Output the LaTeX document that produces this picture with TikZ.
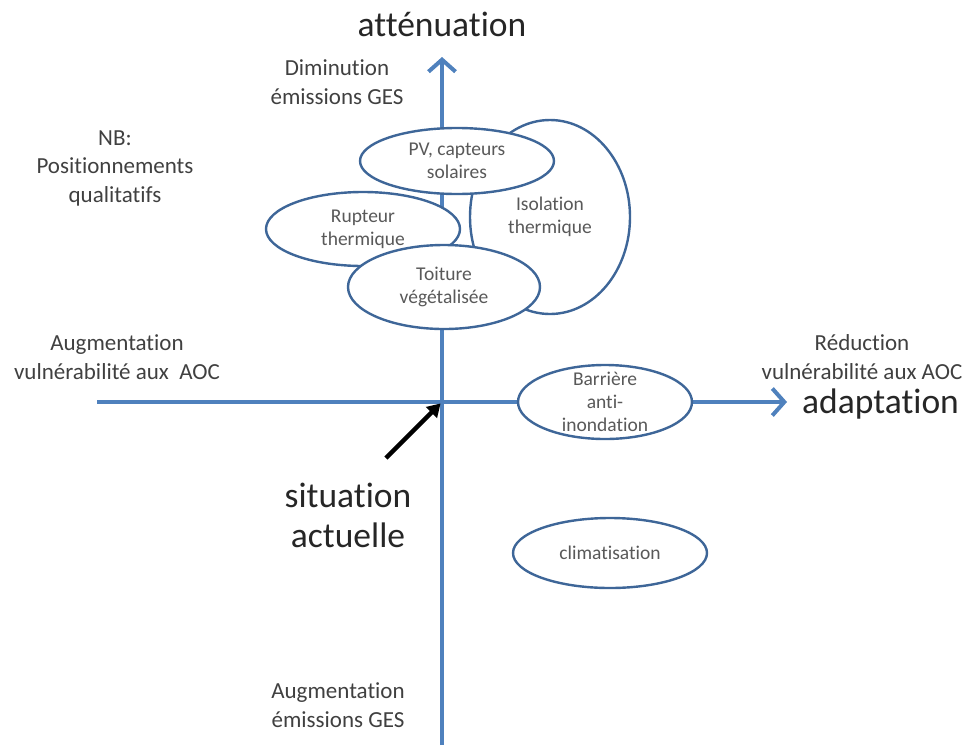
\documentclass[tikz,border=0pt]{standalone}
\usepackage{fontspec}
\setmainfont{Carlito}[Ligatures={NoCommon}]
\usepackage{tikz}
\usetikzlibrary{shapes.geometric,arrows.meta}
\definecolor{axisblue}{RGB}{79,129,189}
\definecolor{edgeblue}{RGB}{62,102,152}
\definecolor{txtgray}{RGB}{64,64,64}
\definecolor{blobtxt}{RGB}{89,89,89}

\begin{document}
\begin{tikzpicture}[x=1pt, y=-1pt,
  axis/.style={line width=4pt, color=axisblue, -{Straight Barb[length=12pt,width=27pt]}},
  blob/.style={ellipse, draw=edgeblue, line width=2.4pt, fill=white, inner sep=0pt,
    align=center, text=blobtxt, font=\fontsize{19.5}{23}\selectfont},
  note/.style={align=center, text=txtgray, inner sep=0pt, font=\fontsize{23}{28.5}\selectfont},
  bigtext/.style={align=center, text=black!85, inner sep=0pt, font=\fontsize{35.5}{40}\selectfont}]

  \useasboundingbox (0,0) rectangle (966,745);

  \coordinate (O) at (442,402);
  \coordinate (top) at (442,57);
  \coordinate (bottom) at (442,745);
  \coordinate (left) at (97,402);
  \coordinate (right) at (787,402);
  \coordinate (sittail) at (386,458);

  %% axes
  \draw[axis] (bottom) -- (top);
  \draw[axis] (left) -- (right);

  %% measures (back to front)
  \node[blob, minimum width=160pt, minimum height=194pt] (isol) at (550,217) {Isolation\\thermique};
  \node[blob, minimum width=194pt, minimum height=74pt] (rupt) at (363,229) {Rupteur\\thermique};
  \node[blob, minimum width=194pt, minimum height=66pt] (pv) at (457,161) {PV, capteurs\\solaires};
  \node[blob, minimum width=192pt, minimum height=84pt] (toit) at (444,287) {Toiture\\végétalisée};
  \node[blob, minimum width=174pt, minimum height=74pt, inner ysep=-12pt] (barr) at (605,402) {Barrière\\anti-\\inondation};
  \node[blob, minimum width=194pt, minimum height=70pt] (clim) at (610,553) {climatisation};

  %% axis labels
  \node[bigtext, anchor=base] (att) at (442,36) {atténuation};
  \node[bigtext, anchor=base west] (adapt) at (802,413) {adaptation};
  \node[note] (dimin) at (337,82) {Diminution\\émissions GES};
  \node[note] (augem) at (338,705) {Augmentation\\émissions GES};
  \node[note] (augvul) at (117,357) {Augmentation\\vulnérabilité aux\ \ AOC};
  \node[note] (redvul) at (862,357) {Réduction\\vulnérabilité aux AOC};
  \node[note] (nb) at (115,168) {NB:\\Positionnements\\qualitatifs};

  %% current situation
  \node[bigtext] (situ) at (348,515) {situation\\actuelle};
  \draw[line width=4.5pt, -{Triangle[length=13pt,width=15pt]}, shorten >=2pt] (sittail) -- (O);

\end{tikzpicture}
\end{document}
